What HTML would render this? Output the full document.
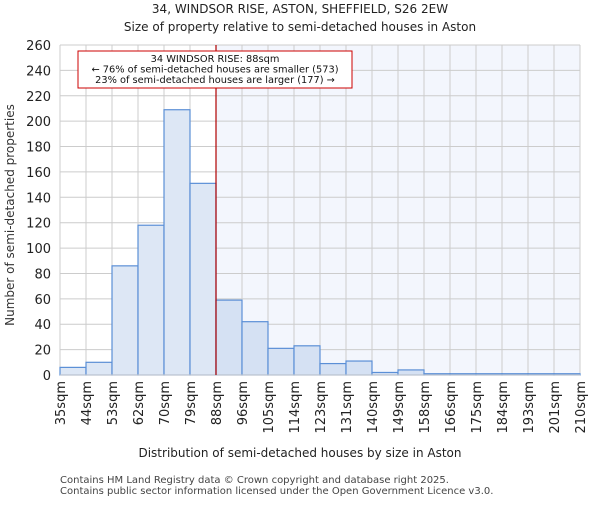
<!DOCTYPE html>
<html><head><meta charset="utf-8"><style>body{margin:0;background:#fff}svg text{font-family:"DejaVu Sans","Liberation Sans",sans-serif}</style></head>
<body>
<svg id="c" width="600" height="500">
<text x="300" y="13" text-anchor="middle" font-size="12" fill="#222">34, WINDSOR RISE, ASTON, SHEFFIELD, S26 2EW</text>
<text x="300" y="31" text-anchor="middle" font-size="12" fill="#222">Size of property relative to semi-detached houses in Aston</text>
<g id="plot"></g>
<text x="300" y="457" text-anchor="middle" font-size="12" fill="#222">Distribution of semi-detached houses by size in Aston</text>
<text transform="translate(14,215) rotate(-90)" text-anchor="middle" font-size="12" fill="#333">Number of semi-detached properties</text>
<text x="60" y="483" font-size="10" fill="#444">Contains HM Land Registry data © Crown copyright and database right 2025.</text>
<text x="60" y="494" font-size="10" fill="#444">Contains public sector information licensed under the Open Government Licence v3.0.</text>
</svg>
<script>
const binLabels=["35sqm","44sqm","53sqm","62sqm","70sqm","79sqm","88sqm","96sqm","105sqm","114sqm","123sqm","131sqm","140sqm","149sqm","158sqm","166sqm","175sqm","184sqm","193sqm","201sqm","210sqm"];
const counts=[6,10,86,118,209,151,59,42,21,23,9,11,2,4,1,1,1,1,1,1];
const yTicks=[0,20,40,60,80,100,120,140,160,180,200,220,240,260];
const markerBin=6;
const L=60,R=580,T=45,B=375,yMax=260;
const ns="http://www.w3.org/2000/svg",g=document.getElementById('plot');
const bw=(R-L)/counts.length;
const xs=i=>L+i*bw, ys=v=>B-(v/yMax)*(B-T);
function mk(t,a,p){const e=document.createElementNS(ns,t);for(const k in a)e.setAttribute(k,a[k]);(p||g).appendChild(e);return e;}
let hl=mk('rect',{x:xs(markerBin),y:T,width:R-xs(markerBin),height:B-T,fill:'#f3f6fd'});


yTicks.forEach(v=>{let l=mk('line',{x1:L,x2:R,y1:ys(v),y2:ys(v),stroke:'#ccc'});


let t=mk('text',{x:L-9,y:ys(v)+5,'text-anchor':'end','font-size':'13',fill:'#222'});t.textContent=v;

});
binLabels.forEach((s,i)=>{let l=mk('line',{x1:xs(i),x2:xs(i),y1:T,y2:B,stroke:'#ccc'});


let t=mk('text',{transform:`translate(${xs(i)+5},381) rotate(-90)`,'text-anchor':'end','font-size':'13',fill:'#222'});t.textContent=s;

});
counts.forEach((v,i)=>{let r=mk('rect',{x:xs(i),y:ys(v),width:bw,height:B-ys(v),fill:i<markerBin?'#dde7f5':'#d5e1f3',stroke:'#5b8fd6','stroke-width':1.2});

});
let ax=mk('line',{x1:L,x2:R,y1:B,y2:B,stroke:'#ccc'});


let ml=mk('line',{x1:xs(markerBin),x2:xs(markerBin),y1:T,y2:B,stroke:'#b00000','stroke-width':1.2});


let box=mk('rect',{x:78,y:51,width:274,height:37,fill:'#fff',stroke:'#c00'});


["34 WINDSOR RISE: 88sqm","← 76% of semi-detached houses are smaller (573)","23% of semi-detached houses are larger (177) →"].forEach((s,i)=>{let t=mk('text',{x:215,y:62+i*10.5,'text-anchor':'middle','font-size':'9.8',fill:'#111'});t.textContent=s;

});
</script>
</body></html>
